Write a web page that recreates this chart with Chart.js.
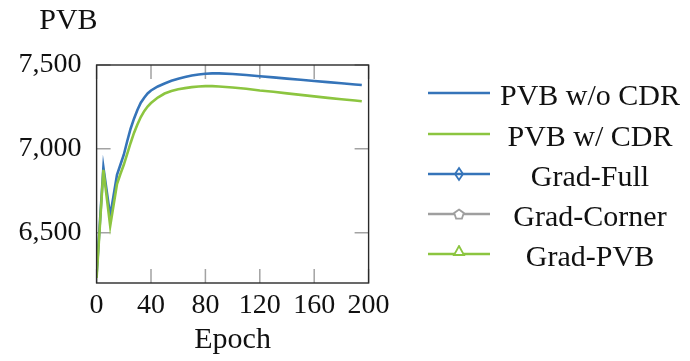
<!DOCTYPE html>
<html>
<head>
<meta charset="utf-8">
<script src="https://cdn.jsdelivr.net/npm/chart.js@4"></script>
<style>
  html, body { margin: 0; padding: 0; background: #ffffff; }
  #wrap { position: relative; width: 690px; height: 361px; overflow: hidden; }
  #chartBox { position: absolute; left: 0; top: 0; width: 690px; height: 361px; }
  .lg-row { position: absolute; left: 424px; width: 266px; height: 40px; display: flex; align-items: center; }
  .lg-row canvas { display: block; margin-left: 4px; }
  .lg-row span { display: block; width: 186px; margin-left: 7px; text-align: center; position: relative; top: 2px;
                 font-family: 'Liberation Serif', 'Times New Roman', serif; font-size: 30px; line-height: 40px; color: #111111; white-space: nowrap; }
</style>
</head>
<body>
<div id="wrap">
  <div id="chartBox"><canvas id="c"></canvas></div>
  <div id="legend"></div>
</div>
<script>
// ---- data ----
const epochs = [0, 5, 10, 15, 17.5, 20, 22.5, 25, 27.5, 30, 32.5, 35, 37.5, 40, 45, 50, 55, 60, 65, 70, 75, 80, 85, 90,
                100, 110, 120, 130, 140, 150, 160, 170, 180, 190, 195];
const pvbWithoutCdr = [6250, 6890, 6600, 6845, 6905, 6965, 7045, 7120, 7180, 7232, 7275, 7305, 7330, 7348, 7372, 7390, 7406, 7418, 7428, 7437, 7443, 7448, 7450, 7450,
                       7446, 7440, 7433, 7426, 7419, 7412, 7405, 7398, 7391, 7384, 7381];
const pvbWithCdr = [6230, 6875, 6540, 6790, 6850, 6905, 6970, 7035, 7095, 7145, 7190, 7225, 7252, 7273, 7306, 7330, 7345, 7355, 7362, 7368, 7372, 7374, 7374, 7372,
                    7366, 7358, 7348, 7340, 7331, 7322, 7313, 7304, 7296, 7288, 7284];
const gradFull = [];
const gradCorner = [];
const gradPvb = [];
const seriesLabels = ['PVB w/o CDR', 'PVB w/ CDR', 'Grad-Full', 'Grad-Corner', 'Grad-PVB'];
const xTickValues = [0, 40, 80, 120, 160, 200];
const yTickValues = [6500, 7000, 7500];
const xTitle = 'Epoch';
const yTitle = 'PVB';

const BLUE = '#3574b9';
const GREEN = '#8cc540';
const GRAY = '#9f9f9f';
const FONT = "'Liberation Serif', 'Times New Roman', serif";

// legend sample images (line + optional marker)
function makeSample(color, marker) {
  const cv = document.createElement('canvas');
  cv.width = 62; cv.height = 18;
  const g = cv.getContext('2d');
  const cy = 9;
  g.strokeStyle = color; g.lineWidth = 2.6; g.lineCap = 'butt';
  g.beginPath(); g.moveTo(0, cy); g.lineTo(62, cy); g.stroke();
  g.lineWidth = 1.8; g.lineJoin = 'miter';
  const cx = 31;
  if (marker === 'diamond') {
    g.beginPath();
    g.moveTo(cx, cy - 6); g.lineTo(cx + 4, cy); g.lineTo(cx, cy + 6); g.lineTo(cx - 4, cy); g.closePath();
    g.stroke();
  } else if (marker === 'pentagon') {
    g.beginPath();
    for (let k = 0; k < 5; k++) {
      const a = -Math.PI / 2 + k * 2 * Math.PI / 5;
      const px = cx + 5 * Math.cos(a), py = cy + 0.5 + 5 * Math.sin(a);
      if (k === 0) g.moveTo(px, py); else g.lineTo(px, py);
    }
    g.closePath(); g.fillStyle = '#ffffff'; g.fill(); g.stroke();
  } else if (marker === 'triangle') {
    g.beginPath();
    g.moveTo(cx, cy - 8); g.lineTo(cx + 5, cy + 1); g.lineTo(cx - 5, cy + 1); g.closePath();
    g.fillStyle = '#ffffff'; g.fill(); g.stroke();
  }
  return cv;
}
const sampleSpecs = [[BLUE, null], [GREEN, null], [BLUE, 'diamond'], [GRAY, 'pentagon'], [GREEN, 'triangle']];

// HTML legend
const legendEl = document.getElementById('legend');
seriesLabels.forEach((lab, i) => {
  const row = document.createElement('div');
  row.className = 'lg-row';
  row.style.top = (93.3 + i * 40.2 - 20) + 'px';
  row.appendChild(makeSample(sampleSpecs[i][0], sampleSpecs[i][1]));
  const sp = document.createElement('span');
  sp.textContent = lab;
  row.appendChild(sp);
  legendEl.appendChild(row);
});

function pts(ys) { return ys.map((v, i) => ({x: epochs[i], y: v})); }

// frame, inward ticks and the horizontal y label
const framePlugin = {
  id: 'framePlugin',
  beforeDatasetsDraw(chart) {
    const {ctx, chartArea: a, scales} = chart;
    const L = 14;
    ctx.save();
    ctx.strokeStyle = '#a3a3a3';
    ctx.lineWidth = 1.5;
    ctx.beginPath();
    scales.x.ticks.forEach(t => {
      const px = scales.x.getPixelForValue(t.value);
      ctx.moveTo(px, a.bottom); ctx.lineTo(px, a.bottom - L);
      ctx.moveTo(px, a.top); ctx.lineTo(px, a.top + L);
    });
    scales.y.ticks.forEach(t => {
      const py = scales.y.getPixelForValue(t.value);
      ctx.moveTo(a.left, py); ctx.lineTo(a.left + L, py);
      ctx.moveTo(a.right, py); ctx.lineTo(a.right - L, py);
    });
    ctx.stroke();
    ctx.restore();
  },
  afterDatasetsDraw(chart) {
    const {ctx, chartArea: a} = chart;
    ctx.save();
    ctx.strokeStyle = '#2a2a2a';
    ctx.lineWidth = 1.4;
    ctx.strokeRect(a.left, a.top, a.right - a.left, a.bottom - a.top);
    ctx.restore();
  },
  afterDraw(chart) {
    const {ctx, chartArea: a} = chart;
    ctx.save();
    ctx.fillStyle = '#111111';
    ctx.font = "30px " + FONT;
    ctx.textAlign = 'right';
    ctx.textBaseline = 'middle';
    ctx.fillText(yTitle, a.left + 1, 21);
    ctx.restore();
  }
};

new Chart(document.getElementById('c'), {
  type: 'line',
  data: {
    datasets: [
      {label: seriesLabels[0], data: pts(pvbWithoutCdr), borderColor: BLUE, borderWidth: 2.6, pointRadius: 0, tension: 0, order: 1},
      {label: seriesLabels[1], data: pts(pvbWithCdr), borderColor: GREEN, borderWidth: 2.6, pointRadius: 0, tension: 0, order: 0},
      {label: seriesLabels[2], data: gradFull, borderColor: BLUE, borderWidth: 2.6, pointRadius: 0, order: 2},
      {label: seriesLabels[3], data: gradCorner, borderColor: GRAY, borderWidth: 2.6, pointRadius: 0, order: 3},
      {label: seriesLabels[4], data: gradPvb, borderColor: GREEN, borderWidth: 2.6, pointRadius: 0, order: 4}
    ]
  },
  options: {
    responsive: true,
    maintainAspectRatio: false,
    animation: false,
    layout: {padding: {top: 65, right: 321.4, bottom: 0, left: 0}},
    plugins: {
      tooltip: {enabled: false},
      title: {display: false},
      legend: {display: false}
    },
    scales: {
      x: {
        type: 'linear',
        min: 0,
        max: 200,
        afterBuildTicks: s => { s.ticks = xTickValues.map(v => ({value: v})); },
        afterFit: s => { s.height = 78; },
        ticks: {color: '#111111', font: {family: FONT, size: 28}, padding: 6, maxRotation: 0},
        grid: {display: false, drawTicks: false},
        border: {display: false},
        title: {display: true, text: xTitle, color: '#111111', font: {family: FONT, size: 30}, padding: {top: 0, bottom: 3}}
      },
      y: {
        type: 'linear',
        min: 6200,
        max: 7500,
        afterBuildTicks: s => { s.ticks = yTickValues.map(v => ({value: v})); },
        afterFit: s => { s.width = 96.6; },
        ticks: {color: '#111111', font: {family: FONT, size: 28}, padding: 15,
                callback: v => Number(v).toLocaleString('en-US')},
        grid: {display: false, drawTicks: false},
        border: {display: false}
      }
    }
  },
  plugins: [framePlugin]
});
</script>
</body>
</html>
